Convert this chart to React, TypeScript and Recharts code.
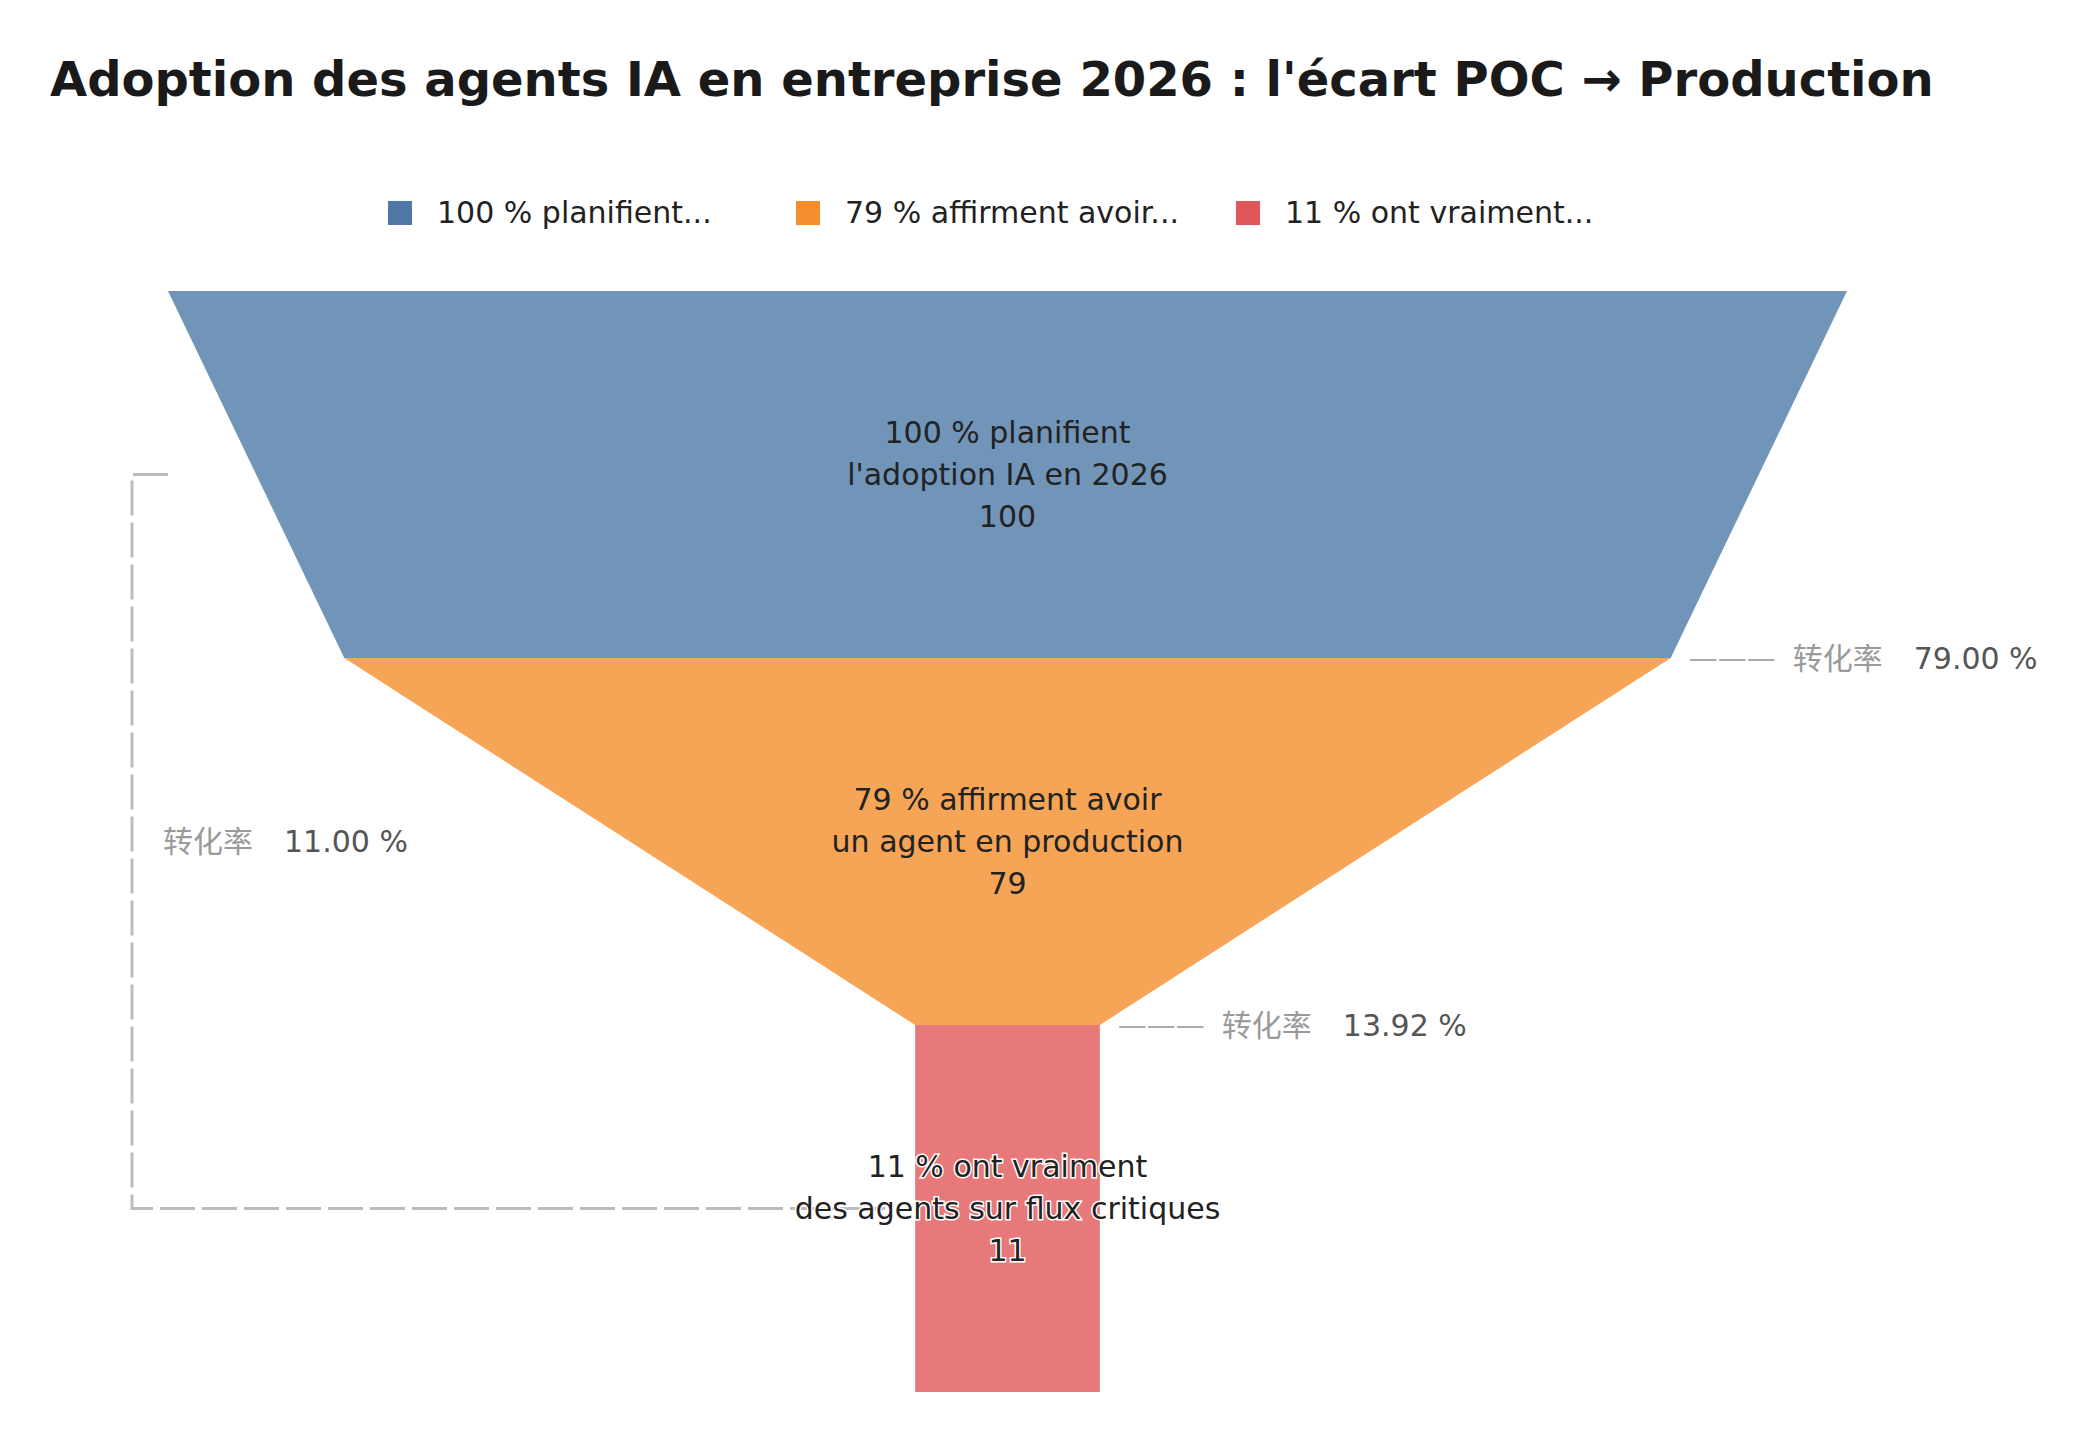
import React from 'react';
import { FunnelChart, Funnel, LabelList } from 'recharts';

// stages of the funnel
const stageLines: string[][] = [
    ['100 % planifient', "l'adoption IA en 2026"],
    ['79 % affirment avoir', 'un agent en production'],
    ['11 % ont vraiment', 'des agents sur flux critiques'],
];
const stageValues = [100, 79, 11];
const stageColors = ['#4e79a7', '#f28e2b', '#e15759'];
const legendX = [388, 796, 1236];
const rateLabel = '转化率';
const title = "Adoption des agents IA en entreprise 2026 : l'écart POC → Production";

const FONT = '"DejaVu Sans", "Noto Sans CJK SC", sans-serif';

const data = stageValues.map((value, i) => ({
    name: stageLines[i].join(' '),
    value,
    stage: i,
    fill: stageColors[i],
}));

const pct = (a: number, b: number) => ((a / b) * 100).toFixed(2) + ' %';

function RateText({ x, y, value }: { x: number; y: number; value: string }) {
    return (
        <g fontFamily={FONT} fontSize={30}>
            <text x={x} y={y} dominantBaseline="central" fill="#9a9a9a">
                {rateLabel}
            </text>
            <text x={x + 121} y={y} dominantBaseline="central" fill="#555">
                {value}
            </text>
        </g>
    );
}

function StageShape(props: any) {
    const { x, y, upperWidth, lowerWidth, height } = props;
    const stage = props.payload?.stage ?? props.stage ?? 0;
    const u = upperWidth;
    const l = lowerWidth;
    const path = `M${x},${y} L${x + u},${y} L${x + (u + l) / 2},${y + height} L${x + (u - l) / 2},${y + height} Z`;
    const last = stage === stageValues.length - 1;
    let extra = null;
    if (!last) {
        const sx = x + (u + l) / 2 + 18;
        const sy = y + height;
        extra = (
            <g>
                <text x={sx} y={sy} dominantBaseline="central" fontFamily={FONT} fontSize={29} fill="#aaa">
                    ———
                </text>
                <RateText x={sx + 104} y={sy} value={pct(stageValues[stage + 1], stageValues[stage])} />
            </g>
        );
    } else {
        // overall conversion bracket, first stage -> last stage
        const cx = x + u / 2;
        const firstWidth = (u * stageValues[0]) / stageValues[stage];
        const topX = cx - firstWidth / 2;
        const topY = y - height * (stage - 0.5);
        const botY = y + height / 2;
        const vx = topX - 36;
        extra = (
            <g>
                <path
                    d={`M${topX},${topY} L${vx},${topY} L${vx},${botY} L${x - 30},${botY}`}
                    fill="none"
                    stroke="#bbb"
                    strokeWidth={3}
                    strokeDasharray="35 7"
                />
                <RateText x={vx + 31} y={(topY + botY) / 2} value={pct(stageValues[stage], stageValues[0])} />
            </g>
        );
    }
    return (
        <g>
            <path d={path} fill={stageColors[stage]} fillOpacity={0.8} />
            {extra}
        </g>
    );
}

function StageLabel(props: any) {
    const { viewBox, index } = props;
    if (!viewBox) return null;
    const cx = viewBox.x + viewBox.width / 2;
    const cy = viewBox.y + viewBox.height / 2;
    const lines = [...stageLines[index], String(stageValues[index])];
    const halo = index === stageValues.length - 1;
    return (
        <g>
            {lines.map((line, i) => (
                <text
                    key={i}
                    x={cx}
                    y={cy + (i - 1) * 42}
                    textAnchor="middle"
                    dominantBaseline="central"
                    fontFamily={FONT}
                    fontSize={30}
                    fill="#222"
                    stroke={halo ? '#fff' : 'none'}
                    strokeWidth={halo ? 3 : 0}
                    paintOrder="stroke"
                >
                    {line}
                </text>
            ))}
        </g>
    );
}

export default function App() {
    return (
        <div style={{ position: 'absolute', left: 0, top: 0, width: 2100, height: 1440, background: '#fff' }}>
            <FunnelChart width={2100} height={1440} margin={{ top: 291, right: 253, bottom: 48, left: 168 }}>
                <Funnel
                    dataKey="value"
                    nameKey="name"
                    data={data}
                    lastShapeType="rectangle"
                    isAnimationActive={false}
                    shape={StageShape}
                >
                    <LabelList dataKey="value" position="center" content={StageLabel} />
                </Funnel>
            </FunnelChart>
            <svg
                width={2100}
                height={260}
                style={{ position: 'absolute', left: 0, top: 0, pointerEvents: 'none' }}
            >
                <text x={50} y={96} fontFamily={FONT} fontSize={48} fontWeight="bold" fill="#1a1a1a">
                    {title}
                </text>
                {stageLines.map((lines, i) => (
                    <g key={i}>
                        <rect x={legendX[i]} y={201} width={24} height={24} fill={stageColors[i]} />
                        <text x={legendX[i] + 49} y={223} fontFamily={FONT} fontSize={30} fill="#222">
                            {lines[0] + '...'}
                        </text>
                    </g>
                ))}
            </svg>
        </div>
    );
}
